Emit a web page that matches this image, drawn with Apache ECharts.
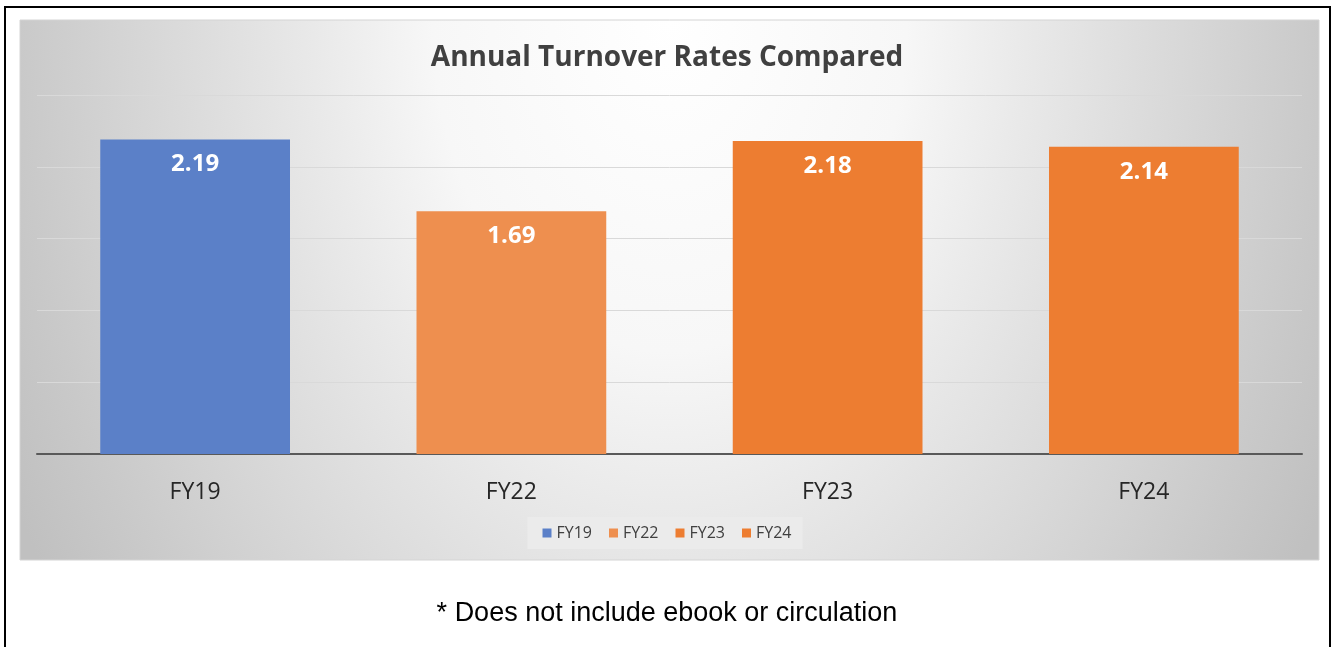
<!DOCTYPE html>
<html>
<head>
<meta charset="utf-8">
<script src="https://cdn.jsdelivr.net/npm/echarts@6/dist/echarts.min.js"></script>
<style>
html,body{margin:0;padding:0;background:#fff;}
#c{width:1334px;height:647px;}
</style>
</head>
<body>
<div id="c"></div>
<script>
const titleText = 'Annual Turnover Rates Compared';
const categories = ['FY19', 'FY22', 'FY23', 'FY24'];
const values = [2.19, 1.69, 2.18, 2.14];
const colors = ['#5b80c8', '#ee8f4f', '#ed7d31', '#ed7d31'];
const yTicks = [0, 0.5, 1, 1.5, 2, 2.5];
const footnote = '* Does not include ebook or circulation';

const chart = echarts.init(document.getElementById('c'));
const series = categories.map((name, i) => ({
  name: name,
  type: 'bar',
  stack: 'all',
  barWidth: '60%',
  data: categories.map((c, j) => (j === i ? values[i] : '-')),
  itemStyle: { color: colors[i] },
  label: {
    show: true,
    position: 'insideTop',
    distance: 13,
    color: '#ffffff',
    fontSize: 24,
    fontWeight: 'bold',
    fontFamily: 'Open Sans',
    formatter: p => p.value.toFixed(2)
  }
}));

const PW = 1299, PH = 540, VS = 1.4, H0 = PH / VS, R = 740;
chart.setOption({
  animation: false,
  backgroundColor: '#ffffff',
  title: {
    text: titleText,
    left: 'center',
    top: 39,
    textStyle: { fontSize: 28, fontWeight: 'bold', color: '#404040', fontFamily: 'Open Sans' }
  },
  graphic: [
    {
      type: 'rect', z: -10, silent: true,
      x: 5, y: 7,
      shape: { x: 0, y: 0, width: 1325, height: 700 },
      style: { fill: '#ffffff', stroke: '#000000', lineWidth: 2 }
    },
    {
      type: 'rect', z: -9, silent: true,
      x: 20, y: 20, scaleX: 1, scaleY: VS,
      shape: { x: 0, y: 0, width: PW, height: H0 },
      style: {
        fill: {
          type: 'radial', x: 0.5, y: 0, r: R / H0,
          colorStops: [
            { offset: 0, color: '#ffffff' },
            { offset: 0.32, color: '#f7f7f7' },
            { offset: 0.47, color: '#eaeaea' },
            { offset: 0.605, color: '#dfdfdf' },
            { offset: 0.88, color: '#c9c9c9' },
            { offset: 1, color: '#c0c0c0' }
          ]
        }
      }
    },
    {
      type: 'rect', z: -8, silent: true,
      x: 20, y: 20,
      shape: { x: 0, y: 0, width: PW, height: PH },
      style: { fill: 'none', stroke: '#d4d4d4', lineWidth: 1 }
    },
    {
      type: 'text', silent: true,
      left: 'center', top: 600,
      style: { text: footnote, fontSize: 27, fill: '#000000', fontFamily: 'Liberation Sans' }
    }
  ],
  legend: {
    data: categories,
    bottom: 98,
    left: 'center',
    itemWidth: 9,
    itemHeight: 9,
    itemGap: 17,
    padding: [8, 11, 8, 15],
    backgroundColor: '#ebebeb',
    icon: 'rect',
    textStyle: { fontSize: 16, color: '#404040', fontFamily: 'Open Sans' }
  },
  grid: { left: 37, right: 32, top: 95, bottom: 193 },
  xAxis: {
    type: 'category',
    data: categories,
    axisLine: { lineStyle: { color: '#595959', width: 2 } },
    axisTick: { show: false },
    axisLabel: { fontSize: 23, color: '#262626', margin: 27, fontFamily: 'Open Sans' }
  },
  yAxis: {
    type: 'value',
    min: yTicks[0],
    max: yTicks[yTicks.length - 1],
    interval: yTicks[1] - yTicks[0],
    axisLabel: { show: false },
    axisLine: { show: false },
    axisTick: { show: false },
    splitLine: { lineStyle: { color: '#d9d9d9', width: 1 } }
  },
  series: series
});
</script>
</body>
</html>
